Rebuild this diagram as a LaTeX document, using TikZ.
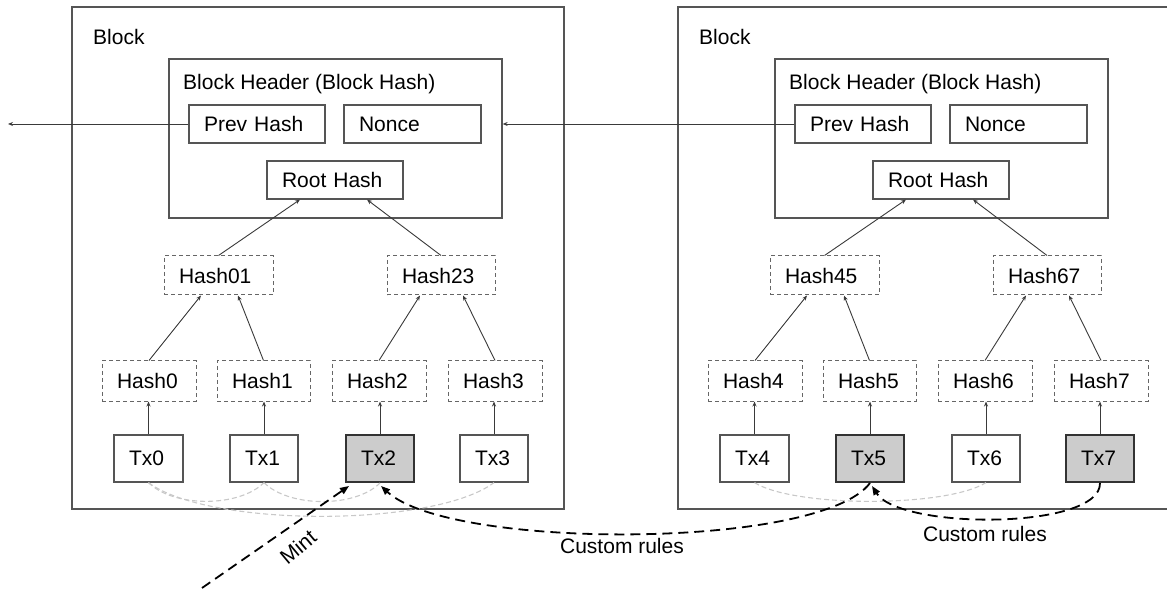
\documentclass[tikz,border=0pt]{standalone}
\usepackage{fontspec}
\setmainfont{Liberation Sans}
\usetikzlibrary{arrows.meta,calc}

\definecolor{edgegray}{HTML}{555555}
\definecolor{dashgray}{HTML}{666666}
\definecolor{arcgray}{HTML}{C8C8C8}
\definecolor{shadegray}{HTML}{CCCCCC}
\definecolor{linkgray}{HTML}{3A3A3A}

\tikzset{
  frame/.style={draw=edgegray, line width=1.3pt, inner sep=0pt},
  cell/.style={draw=edgegray, line width=1.2pt, fill=white, inner xsep=15pt, inner ysep=0pt, align=left},
  hcell/.style={cell, draw=dashgray, line width=1pt, dash pattern=on 4pt off 3pt, minimum height=39pt},
  plaintx/.style={cell},
  shadedtx/.style={cell, fill=shadegray, draw=black!80, line width=2pt},
  caption/.style={inner sep=0pt, anchor=west},
  conn/.style={draw=linkgray, line width=0.9pt, -{Stealth[length=5pt,width=4pt]}},
  tiearc/.style={draw=arcgray, line width=1.1pt, dash pattern=on 5pt off 3pt},
  rulearrow/.style={draw=black, line width=1.8pt, dash pattern=on 10pt off 6pt, -{Triangle[length=9pt,width=7pt]}},
}

% One block with header and Merkle tree.
% #1 x offset, #2 name prefix, #3 first tx index, #4-#7 styles of the four tx boxes
\newcommand\merkleblock[7]{%
  \pgfmathtruncatemacro\ta{#3}\pgfmathtruncatemacro\tb{#3+1}%
  \pgfmathtruncatemacro\tc{#3+2}\pgfmathtruncatemacro\td{#3+3}%
  \node[frame, minimum width=492pt, minimum height=502pt] (#2-blk) at (#1+318,258) {};
  \node[caption] (#2-blktxt) at (#1+93,37) {Block};
  \node[frame, minimum width=333pt, minimum height=159pt] (#2-hdr) at (#1+335.5,138.5) {};
  \node[caption] (#2-hdrtxt) at (#1+183,84) {Block Header (Block Hash)};
  \node[cell, text width=106pt, minimum height=38pt] (#2-prev) at (#1+257,124) {Prev Hash};
  \node[cell, text width=107pt, minimum height=38pt] (#2-nonce) at (#1+412.5,124) {Nonce};
  \node[cell, text width=106pt, minimum height=38pt] (#2-root) at (#1+335,180) {Root Hash};
  \node[hcell, text width=79pt] (#2-hab) at (#1+218.5,275.5) {Hash\ta\tb};
  \node[hcell, text width=78pt] (#2-hcd) at (#1+441,275.5) {Hash\tc\td};
  \node[hcell, text width=64pt, minimum height=40pt] (#2-h0) at (#1+149,381) {Hash\ta};
  \node[hcell, text width=63pt, minimum height=40pt] (#2-h1) at (#1+263.5,381) {Hash\tb};
  \node[hcell, text width=64pt, minimum height=40pt] (#2-h2) at (#1+379,381) {Hash\tc};
  \node[hcell, text width=64pt, minimum height=40pt] (#2-h3) at (#1+495,381) {Hash\td};
  \node[#4, text width=39pt, minimum height=47pt] (#2-t0) at (#1+148.5,458.5) {Tx\ta};
  \node[#5, text width=38pt, minimum height=47pt] (#2-t1) at (#1+264,458.5) {Tx\tb};
  \node[#6, text width=38pt, minimum height=47pt] (#2-t2) at (#1+380,458.5) {Tx\tc};
  \node[#7, text width=38pt, minimum height=47pt] (#2-t3) at (#1+494,458.5) {Tx\td};
  % tree links
  \foreach \k in {0,1,2,3}{
    \draw[conn] (#2-t\k.north) -- (#2-t\k.north |- #2-h\k.south);
  }
  \draw[conn] (#2-h0.north) -- ($(#2-hab.south)+(-17.5,0)$);
  \draw[conn] (#2-h1.north) -- ($(#2-hab.south)+(19.5,0)$);
  \draw[conn] (#2-h2.north) -- ($(#2-hcd.south)+(-21,0)$);
  \draw[conn] (#2-h3.north) -- ($(#2-hcd.south)+(22,0)$);
  \draw[conn] (#2-hab.north) -- ($(#2-root.south)+(-35,0)$);
  \draw[conn] (#2-hcd.north) -- ($(#2-root.south)+(32,0)$);
}

\begin{document}
\begin{tikzpicture}[x=1pt, y=-1pt, font=\fontsize{21}{25}\selectfont]
  \useasboundingbox (0,0) rectangle (1167,593);
  \clip (0,0) rectangle (1167,593);

  \merkleblock{0}{l}{0}{plaintx}{plaintx}{shadedtx}{plaintx}
  \merkleblock{606}{r}{4}{plaintx}{shadedtx}{plaintx}{shadedtx}

  % chain of headers
  \coordinate (chainend) at (8,124);
  \draw[conn] (l-prev.west) -- (chainend);
  \draw[conn] (r-prev.west) -- (r-prev.west -| l-hdr.east);

  % light ties between transactions
  \draw[tiearc] (l-t0.south) .. controls +(25,25) and +(-25,25) .. (l-t1.south);
  \draw[tiearc] (l-t1.south) .. controls +(25,25) and +(-25,25) .. (l-t2.south);
  \draw[tiearc] (l-t0.south) .. controls +(60,45) and +(-60,45) .. (l-t3.south);
  \draw[tiearc] (r-t0.south) .. controls +(40,25) and +(-40,25) .. (r-t2.south);

  % minting and custom rules
  \coordinate (mintfoot) at (202,588);
  \draw[rulearrow] (mintfoot) -- ($(l-t2.south west)+(4,3)$);
  \node[rotate=40, inner sep=0pt] (mintlbl) at (298,547) {Mint};

  \draw[rulearrow] (r-t1.south) .. controls (820,550) and (450,550) .. ($(l-t2.south)+(1,3)$);
  \draw[rulearrow] (r-t3.south) .. controls (1101,530) and (900,530) .. ($(r-t1.south)+(2,3)$);
  \node[inner sep=0pt] (rules1) at (622,546) {Custom rules};
  \node[inner sep=0pt] (rules2) at (985,534) {Custom rules};
\end{tikzpicture}
\end{document}
